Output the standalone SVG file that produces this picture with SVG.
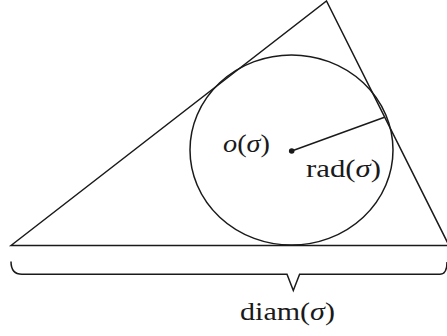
<svg xmlns="http://www.w3.org/2000/svg" width="447" height="336" viewBox="0 0 447 336">
<style>
.ln{fill:none;stroke:#1a1a1a;stroke-width:1.5;stroke-linejoin:miter}
.t{font-family:"Liberation Serif","DejaVu Serif",serif;font-size:26px;fill:#1a1a1a}
.i{font-style:italic}
</style>
<rect width="447" height="336" fill="#fff"/>
<g id="triangle"><polygon class="ln" points="11,245.5 326.5,1 449,245.5"/></g>
<g id="circle"><ellipse class="ln" cx="291.5" cy="150" rx="101.5" ry="95"/></g>
<g id="center"><circle cx="291.7" cy="151" r="2.8" fill="#1a1a1a"/>
<text class="t" x="223" y="152" textLength="47" lengthAdjust="spacingAndGlyphs"><tspan class="i">o</tspan>(<tspan class="i">σ</tspan>)</text></g>
<g id="connectors">
<line class="ln" x1="291.7" y1="151" x2="384.5" y2="117.3"/>
<path class="ln" d="M11,261.5 Q11,274.3 22,274.3 L287,274.3 L293.3,290.5 L299.6,274.3 L440,274.3 Q447,274.3 447,262"/>
</g>
<g id="rad"><text class="t" x="306" y="177" textLength="75" lengthAdjust="spacingAndGlyphs">rad(<tspan class="i">σ</tspan>)</text></g>
<g id="diam"><text class="t" x="240" y="320" textLength="95" lengthAdjust="spacingAndGlyphs">diam(<tspan class="i">σ</tspan>)</text></g>
</svg>
